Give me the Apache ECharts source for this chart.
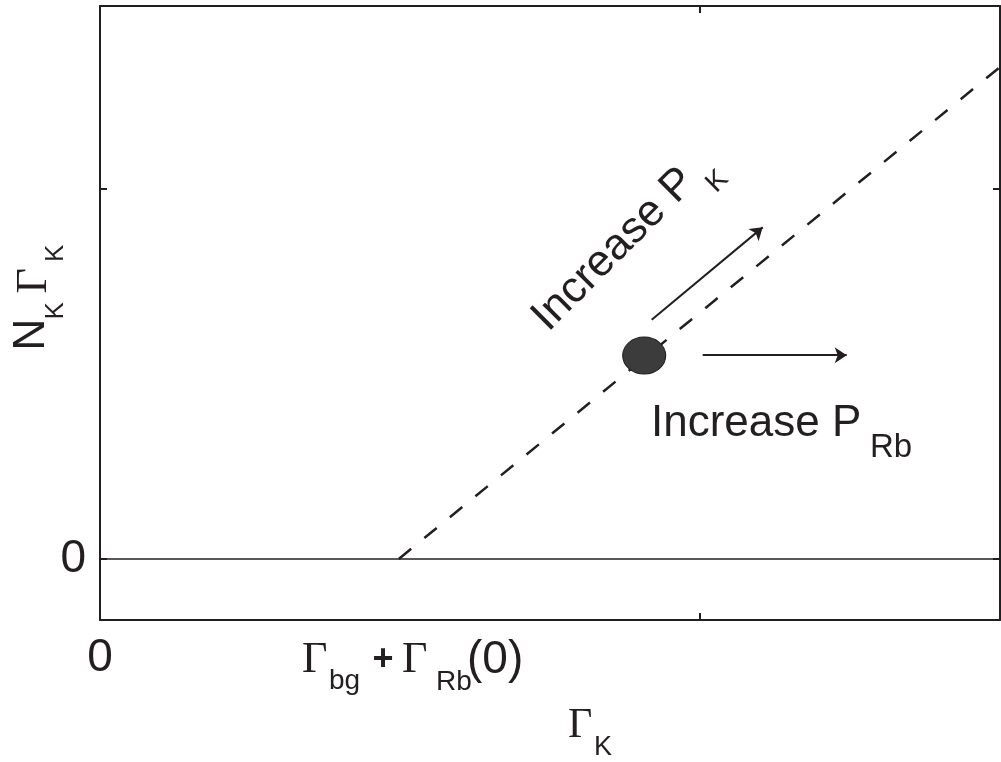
<!DOCTYPE html>
<html><head><meta charset="utf-8">
<script src="https://cdn.jsdelivr.net/npm/echarts@6/dist/echarts.min.js"></script>
<style>html,body{margin:0;padding:0;background:#fff}#main{width:1001px;height:762px}</style>
</head><body><div id="main"></div>
<script>
// ---- data ----
const xRange = [0, 1.5];
const yRange = [-0.165, 1.495];
const xTickValues = [1];
const yTickValues = [0, 1];
const xLabelValues = [0];
const yLabelValues = [0];
const zeroLine = [[0, 0], [1.5, 0]];
const thresholdLine = [[0.498, 0], [1.5, 1.33]];
const operatingPoint = [[0.907, 0.55]];
const arrowIncreasePK = [[0.9195, 0.647], [1.1045, 0.8965]];
const arrowIncreasePRb = [[1.0045, 0.551], [1.2445, 0.551]];

// ---- style ----
const INK = '#231f20';
const SANS = '"Liberation Sans", Arial, sans-serif';
const SERIF = '"Liberation Serif", "Times New Roman", serif';

function txt(x, y, text, size, family, extra) {
  return {
    type: 'text', x: x, y: y, silent: true,
    style: Object.assign({ text: text, fontSize: size, fontFamily: family, fill: INK,
      textAlign: 'left', textVerticalAlign: 'middle', align: 'left', verticalAlign: 'middle' }, extra || {})
  };
}

const chart = echarts.init(document.getElementById('main'), null, { renderer: 'canvas' });

function axisCommon() {
  return {
    axisLine: { show: true, onZero: false, lineStyle: { color: INK, width: 2 } },
    splitLine: { show: false }
  };
}

const option = {
  animation: false,
  backgroundColor: '#fff',
  grid: { left: 100, right: 1, top: 6, bottom: 142, containLabel: false },
  xAxis: [
    Object.assign(axisCommon(), {
      type: 'value', position: 'bottom', min: xRange[0], max: xRange[1],
      axisTick: { show: true, inside: true, length: 7, customValues: xTickValues, lineStyle: { color: INK, width: 2 } },
      axisLabel: { show: true, customValues: xLabelValues, margin: 15, fontSize: 46, fontFamily: SANS, color: INK, formatter: function (v) { return String(v); } }
    }),
    Object.assign(axisCommon(), {
      type: 'value', position: 'top', min: xRange[0], max: xRange[1],
      axisTick: { show: true, inside: true, length: 7, customValues: xTickValues, lineStyle: { color: INK, width: 2 } },
      axisLabel: { show: false }
    })
  ],
  yAxis: [
    Object.assign(axisCommon(), {
      type: 'value', position: 'left', min: yRange[0], max: yRange[1],
      axisTick: { show: true, inside: true, length: 7, customValues: yTickValues, lineStyle: { color: INK, width: 2 } },
      axisLabel: { show: true, customValues: yLabelValues, margin: 14, fontSize: 46, fontFamily: SANS, color: INK, padding: [0, 0, 8, 0], formatter: function (v) { return String(v); } }
    }),
    Object.assign(axisCommon(), {
      type: 'value', position: 'right', min: yRange[0], max: yRange[1],
      axisTick: { show: true, inside: true, length: 7, customValues: yTickValues, lineStyle: { color: INK, width: 2 } },
      axisLabel: { show: false }
    })
  ],
  series: [
    {
      type: 'line', data: zeroLine, showSymbol: false, silent: true,
      lineStyle: { color: INK, width: 1.5 }, z: 2,
      markLine: {
        silent: true, animation: false,
        symbol: ['none', 'arrow'], symbolSize: 12,
        label: { show: false },
        emphasis: { disabled: true },
        lineStyle: { color: INK, width: 2, type: 'solid' },
        data: [
          [{ coord: arrowIncreasePK[0] }, { coord: arrowIncreasePK[1] }],
          [{ coord: arrowIncreasePRb[0] }, { coord: arrowIncreasePRb[1] }]
        ]
      }
    },
    {
      type: 'line', data: thresholdLine, showSymbol: false, silent: true,
      lineStyle: { color: INK, width: 2.5, type: [16, 17], cap: 'butt' }, z: 3
    },
    {
      type: 'scatter', data: operatingPoint, silent: true,
      symbol: 'circle', symbolSize: [43, 37],
      itemStyle: { color: '#3c3c3c', borderColor: '#1e1e1e', borderWidth: 1, opacity: 1 }, z: 5
    }
  ],
  graphic: [
    // bottom special label
    txt(302, 660, 'Γ', 44, SERIF),
    txt(329, 681, 'bg', 28, SANS),
    txt(383, 660, '+', 36, SANS, { fontWeight: 'bold', textAlign: 'center', align: 'center' }),
    txt(402, 660, 'Γ', 44, SERIF),
    txt(436, 682, 'Rb', 28, SANS),
    txt(467, 660, '(0)', 46, SANS),
    // x axis name
    txt(568, 725.5, 'Γ', 42, SERIF),
    txt(594, 747.5, 'K', 27, SANS),
    // y axis name
    {
      type: 'group', x: 31.5, y: 350.5, rotation: Math.PI / 2, silent: true,
      children: [
        txt(0, 0, 'N', 44, SANS),
        txt(31, 24.5, 'K', 26, SANS),
        txt(57, 2.5, 'Γ', 44, SERIF),
        txt(88.5, 24.5, 'K', 26, SANS)
      ]
    },
    // rotated annotation
    {
      type: 'group', x: 539.6, y: 323.9, rotation: 45 * Math.PI / 180, silent: true,
      children: [
        txt(0, 0, 'Increase P', 44, SANS),
        txt(217, 25, 'K', 28, SANS)
      ]
    },
    // horizontal annotation
    txt(651, 424, 'Increase P', 44, SANS),
    txt(870, 448, 'Rb', 33, SANS)
  ]
};
chart.setOption(option);
</script>
</body></html>
